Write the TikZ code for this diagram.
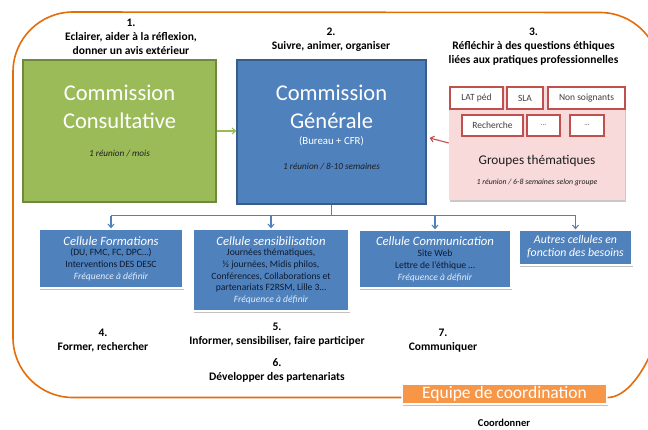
\documentclass[tikz,border=0pt]{standalone}
\usepackage{fontspec}
\setmainfont{Carlito}
\usetikzlibrary{arrows.meta,shadows,calc}
\definecolor{frameor}{HTML}{E46C0A}
\definecolor{ggreen}{HTML}{9BBB59}
\definecolor{ggreenD}{HTML}{71893F}
\definecolor{bblue}{HTML}{4F81BD}
\definecolor{bblueD}{HTML}{385D8A}
\definecolor{rred}{HTML}{C0504D}
\definecolor{ppink}{HTML}{F9DADA}
\definecolor{oorange}{HTML}{F79646}
\definecolor{darktxt}{HTML}{1E1E1E}
\definecolor{celltxt}{HTML}{0E1A30}
\definecolor{freqtxt}{HTML}{E4ECF6}
\newcommand\myfs[2]{\fontsize{#1}{#2}\selectfont}
\newcommand\freqtext[1]{{\itshape\color{freqtxt}#1}}
\begin{document}
\begin{tikzpicture}[x=1pt,y=1pt,
  frame/.style={draw=frameor, line width=1.6pt},
  bigbox/.style={line width=1.3pt, inner sep=0},
  cell/.style={draw=white, line width=1.3pt, fill=bblue, inner sep=0,
    drop shadow={shadow xshift=1pt, shadow yshift=-1.5pt, opacity=0.35, fill=black!70}},
  smallbox/.style={draw=rred, line width=1.4pt, fill=white, inner sep=0, minimum height=21pt,
    font=\myfs{9.5}{11}, text=darktxt!85},
  txt/.style={inner sep=0, align=center},
  lbl/.style={txt, font=\myfs{11.5}{14}\bfseries, text=black},
  bigtxt/.style={txt, font=\myfs{22.5}{28}, text=white},
  note/.style={txt, font=\myfs{9.2}{11}\itshape, text=darktxt},
  ctitle/.style={txt, font=\myfs{12.7}{14}\itshape, text=white},
  cbody/.style={txt, text=celltxt},
  conn/.style={draw=bblue, line width=1.1pt},
  arr/.style={-{Straight Barb[length=3.5pt,width=6pt]}}
]
\useasboundingbox (0,0) rectangle (648,-429);

% header labels
\node[lbl] (l1) at (131,-36.5) {1.\\Eclairer, aider à la réflexion,\\donner un avis extérieur};
\node[lbl] (l2) at (331,-40) {2.\\Suivre, animer, organiser};
\node[lbl] (l3) at (533.5,-47) {3.\\Réfléchir à des questions éthiques\\liées aux pratiques professionnelles};

% commission consultative
\node[bigbox, draw=ggreenD, fill=ggreen, minimum width=193pt, minimum height=142pt] (cc) at (119.5,-131) {};
\node[bigtxt] (cct1) at (119.5,-93) {Commission};
\node[bigtxt] (cct2) at (119.5,-121) {Consultative};
\node[note] (ccn) at (119.5,-154) {1 réunion / mois};

% commission generale
\node[bigbox, draw=bblueD, fill=bblue, minimum width=189pt, minimum height=144pt] (cg) at (331.5,-132) {};
\node[bigtxt] (cgt1) at (331.5,-93) {Commission};
\node[bigtxt] (cgt2) at (331.5,-121) {Générale};
\node[txt, font=\myfs{10.8}{12}, text=white] (cgb) at (331.5,-141) {(Bureau + CFR)};
\node[note] (cgn) at (331.5,-167) {1 réunion / 8-10 semaines};

% groupes thematiques
\node[fill=ppink, inner sep=0, minimum width=176pt, minimum height=114pt,
  drop shadow={shadow xshift=0.5pt, shadow yshift=-1.5pt, opacity=0.3, fill=black!70}] (gt) at (537,-143) {};
\node[smallbox, minimum width=53pt, minimum height=22pt] (s1) at (476.5,-98) {LAT péd};
\node[smallbox, minimum width=36pt, minimum height=22pt] (s2) at (525,-98) {SLA};
\node[smallbox, minimum width=77pt, minimum height=22pt] (s3) at (586.5,-98) {Non soignants};
\node[smallbox, minimum width=61pt] (s4) at (492.5,-125.5) {Recherche};
\node[smallbox, minimum width=33pt] (s5) at (543.5,-125.5) {\myfs{7}{8}…};
\node[smallbox, minimum width=34pt] (s6) at (587,-125.5) {\myfs{7}{8}…};
\node[txt, font=\myfs{13.3}{15}, text=darktxt] (gtt) at (537,-161) {Groupes thématiques};
\node[txt, font=\myfs{7.8}{9}\itshape, text=darktxt] (gtn) at (537,-182) {1 réunion / 6-8 semaines selon groupe};

% arrows between commissions
\draw[ggreen, line width=1.1pt, arr] (cc.east) -- (cc.east -| cg.west);
\draw[rred, line width=1.1pt, arr] (gt.west) -- ([xshift=3pt,yshift=-6pt]cg.east);

% cells
\node[cell, minimum width=144pt, minimum height=59pt] (cf) at (111,-258.5) {};
\node[ctitle] (cft) at (111,-241) {Cellule Formations};
\node[cbody, font=\myfs{9.6}{12}] (cfb) at (111,-265) {(DU, FMC, FC, DPC…)\\Interventions DES DESC\\\freqtext{Fréquence à définir}};

\node[cell, minimum width=156pt, minimum height=82pt] (cs) at (271,-270) {};
\node[ctitle] (cst) at (271,-241) {Cellule sensibilisation};
\node[cbody, font=\myfs{9.6}{11.7}] (csb) at (271,-276.5) {Journées thématiques,\\½ journées, Midis philos,\\Conférences, Collaborations et\\partenariats F2RSM, Lille 3…\\\freqtext{Fréquence à définir}};

\node[cell, minimum width=152pt, minimum height=58pt] (cm) at (435,-259) {};
\node[ctitle] (cmt) at (435,-241) {Cellule Communication};
\node[cbody, font=\myfs{9.6}{12}] (cmb) at (435,-266) {Site Web\\Lettre de l'éthique …\\\freqtext{Fréquence à définir}};

\node[cell, minimum width=113pt, minimum height=35pt] (ca) at (575.5,-247.5) {};
\node[txt, font=\myfs{11.8}{13}\itshape, text=white] (cat) at (575.5,-246.5) {Autres cellules en\\fonction des besoins};

% distribution connectors
\draw[conn] (cg.south) -- ++(0,-11) coordinate (hub);
\draw[conn] (cf.north |- hub) -- (ca.north |- hub);
\draw[conn, arr] (cf.north |- hub) -- (cf.north);
\draw[conn, arr] (cs.north |- hub) -- (cs.north);
\draw[conn, arr] (cm.north |- hub) -- (cm.north);
\draw[conn, arr] (ca.north |- hub) -- (ca.north);

% bottom labels
\node[lbl] (l4) at (103,-340.5) {4.\\Former, rechercher};
\node[lbl] (l5) at (277,-335) {5.\\Informer, sensibiliser, faire participer};
\node[lbl] (l6) at (277,-370) {6.\\Développer des partenariats};
\node[lbl] (l7) at (443,-340.5) {7.\\Communiquer};

% coordination
\node[draw=white, line width=1.3pt, fill=oorange, inner sep=0, minimum width=205pt, minimum height=20pt,
  drop shadow={shadow xshift=1pt, shadow yshift=-1.5pt, opacity=0.35, fill=black!70},
  font=\myfs{17.5}{19}, text=white] (eq) at (504.5,-394) {Equipe de coordination};
\node[lbl, font=\myfs{10.5}{12}\bfseries] (l8) at (504,-422.5) {Coordonner};

% orange frame
\draw[frame] ([yshift=-3.5pt]eq.west) -- (73,-397.5) arc[start angle=270,end angle=180,radius=60]
  -- (13,-72) arc[start angle=180,end angle=90,radius=60]
  -- (600,-12.5) arc[start angle=90,end angle=0,radius=60]
  -- (660,-330) .. controls (645,-375) and (625,-397.5) .. ([yshift=-3.5pt]eq.east);
\end{tikzpicture}
\end{document}
